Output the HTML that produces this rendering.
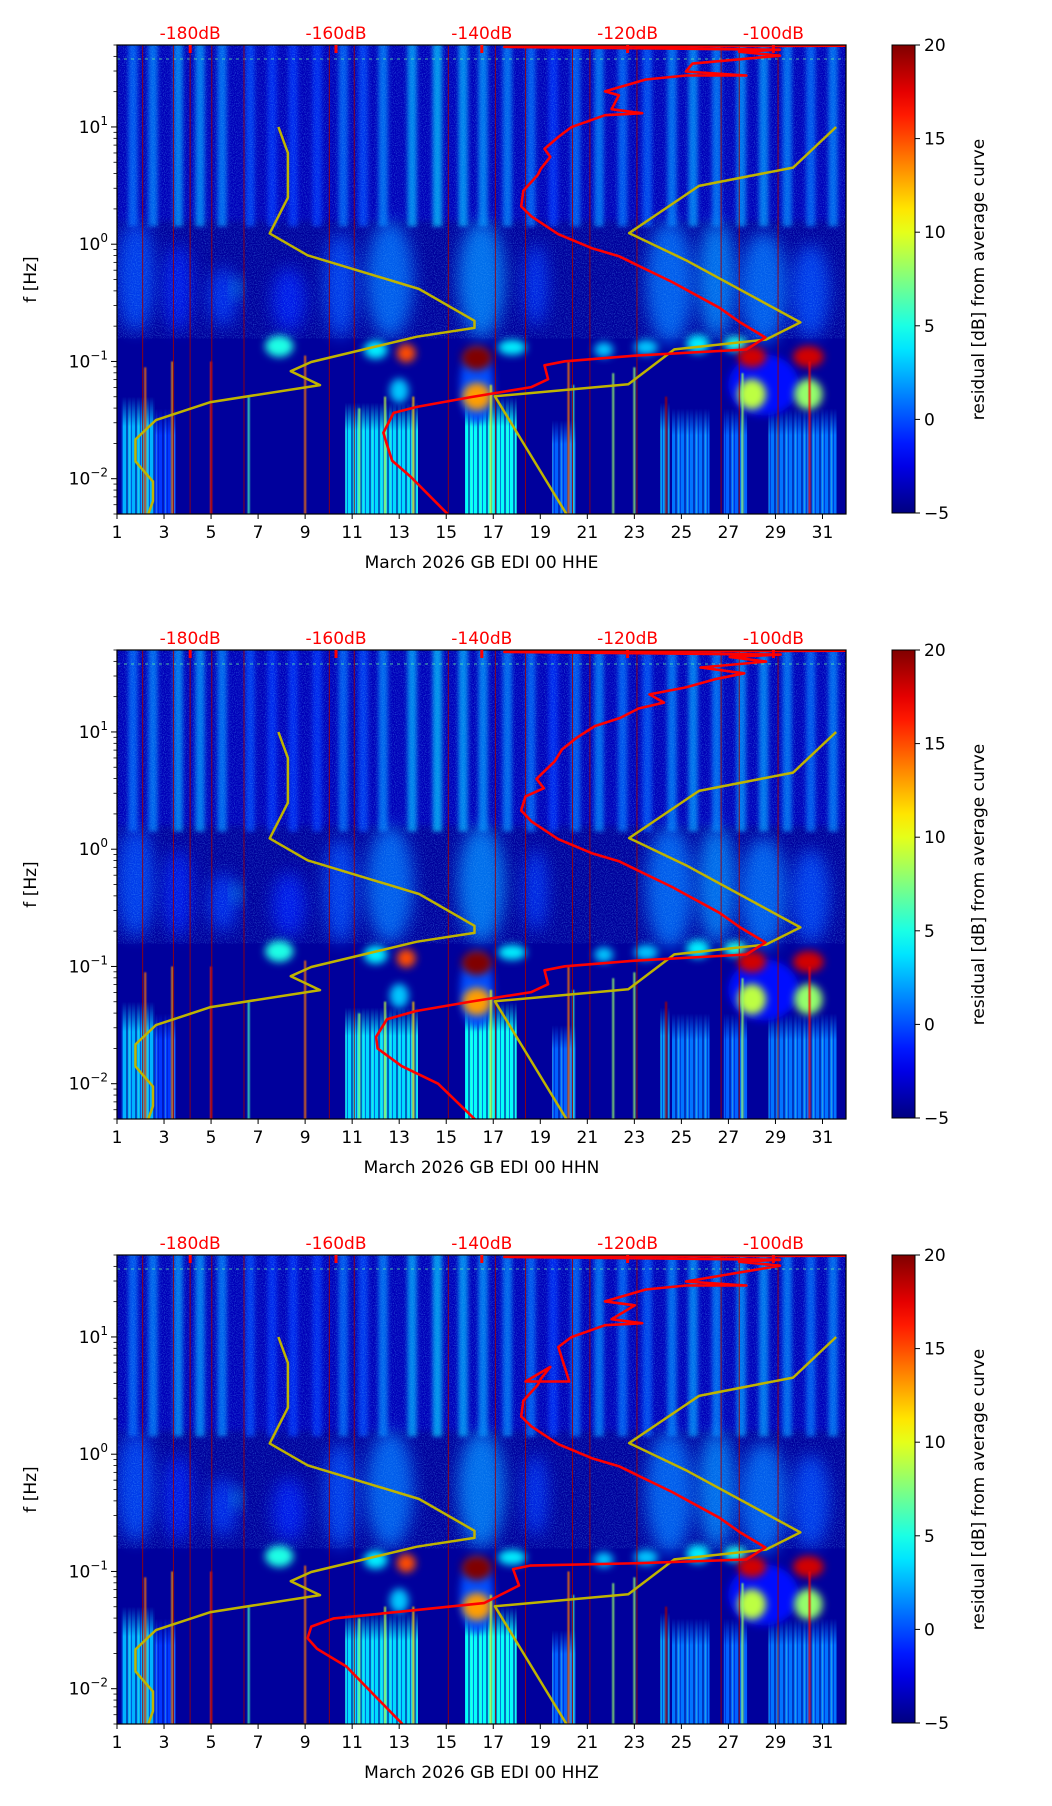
<!DOCTYPE html>
<html><head><meta charset="utf-8"><title>Spectrogram residuals</title>
<style>
html,body{margin:0;padding:0;background:#fff;}
svg{display:block;font-family:"DejaVu Sans","Liberation Sans",sans-serif;}
</style></head>
<body>
<svg id="root" width="1052" height="1806" viewBox="0 0 1052 1806">
<defs>
<filter id="b1" x="-50%" y="-50%" width="200%" height="200%"><feGaussianBlur stdDeviation="0.8"/></filter>
<filter id="b2" x="-50%" y="-50%" width="200%" height="200%"><feGaussianBlur stdDeviation="2"/></filter>
<filter id="b3" x="-50%" y="-50%" width="200%" height="200%"><feGaussianBlur stdDeviation="3"/></filter>
<filter id="b4" x="-50%" y="-50%" width="200%" height="200%"><feGaussianBlur stdDeviation="4"/></filter>
<filter id="b8" x="-50%" y="-50%" width="200%" height="200%"><feGaussianBlur stdDeviation="8"/></filter>
<filter id="grain" x="0" y="0" width="100%" height="100%">
<feTurbulence type="fractalNoise" baseFrequency="0.9" numOctaves="1" seed="3"/>
<feColorMatrix values="0 0 0 0 0.1  0 0 0 0 0.45  0 0 0 0 1  0 0 0 1.8 -0.8"/>
</filter>
<pattern id="streakpat" width="9" height="20" patternUnits="userSpaceOnUse">
<rect x="0" y="0" width="2" height="20" fill="#00008f"/>
<rect x="5" y="0" width="1" height="20" fill="#0010c0"/>
<rect x="3" y="0" width="1" height="20" fill="#80ffa0" opacity="0.5"/>
</pattern>
<linearGradient id="fadeTop" x1="0" y1="0" x2="0" y2="1">
<stop offset="0" stop-color="#fff" stop-opacity="0"/>
<stop offset="0.25" stop-color="#fff" stop-opacity="1"/>
</linearGradient>
<mask id="fadeMask" maskContentUnits="objectBoundingBox"><rect x="0" y="0" width="1" height="1" fill="url(#fadeTop)"/></mask>
<linearGradient id="cbgrad" x1="0" y1="1" x2="0" y2="0"></linearGradient>
</defs>
</svg>
<script>
// ---------- data ----------
const channels = ["HHE", "HHN", "HHZ"];
const xTicks = [1,3,5,7,9,11,13,15,17,19,21,23,25,27,29,31];
const yTickExp = [1,0,-1,-2];
const dbTicks = [-180,-160,-140,-120,-100];
const cbTicks = [20,15,10,5,0,-5];

const stripeDays = [1.68,2.53,3.6,4.53,5.47,6.66,7.6,8.49,9.51,10.62,11.47,12.32,13.55,14.62,15.72,16.57,17.6,18.6,19.55,20.5,21.5,22.5,23.55,24.6,25.5,26.5,27.55,28.5,29.5,30.5,31.45];
const stripeVals = [1,1.5,2,2,1.5,0,-0.5,-0.5,-0.5,1,0,1.5,2.5,3,2.5,2,1.5,1,-0.5,1,1.5,1,0.5,1.5,2,1.5,2,2,1.5,1,1.5];
const plumeDay = [1.8,3.6,5.5,6.1,8.3,10.5,12.6,16.5,18.8,24.5,26.5,28.5,30.5];
const plumeHalfW = [0.8,0.6,0.6,0.2,0.7,0.7,1.0,1.0,0.5,1.0,0.8,1.0,0.8];
const plumeLfLow = [-0.75,-0.75,-0.7,-0.45,-0.75,-0.8,-0.8,-0.8,-0.7,-0.85,-0.8,-0.85,-0.8];
const plumeLfHigh = [0.2,0.0,-0.2,-0.3,-0.2,0.1,0.2,0.2,0.0,0.2,0.2,0.1,0.0];
const plumeVal = [0,-1,-0.5,3,-1,0,1,1.5,-0.5,1,1.5,1,0];
const blobDay = [28.5,16.3,21.7,23.5,17.8,12.0,25.7,13.0,7.9,27.3,30.4,28.0,16.3,13.3,28.0,30.4,16.3];
const blobLf = [-1.2,-1.2,-0.9,-0.88,-0.88,-0.9,-0.85,-1.25,-0.87,-0.85,-1.28,-1.28,-1.3,-0.93,-0.96,-0.96,-0.97];
const blobHalfW = [1.5,0.7,0.4,0.5,0.6,0.5,0.5,0.4,0.6,0.5,0.6,0.6,0.6,0.4,0.6,0.65,0.65];
const blobHalfH = [0.2,0.25,0.05,0.05,0.05,0.06,0.06,0.08,0.07,0.05,0.1,0.1,0.09,0.06,0.07,0.07,0.08];
const blobVal = [-1.5,0,3,3,4,4,4,3,5,5,8,9,13,15,18,18,20];
const lowStart = [1.2,2.6,10.7,15.8,19.5,24.1,24.6,26.8,28.7];
const lowEnd = [2.6,3.5,13.8,18.0,20.5,24.5,26.2,27.8,31.6];
const lowTop = [-1.3,-1.4,-1.35,-1.3,-1.5,-1.35,-1.4,-1.4,-1.4];
const lowVal = [2.5,-0.5,3.5,4.5,0.5,2,1,0.5,1];
const streakDay = [2.2,3.35,5.0,6.6,9.0,11.3,12.4,13.6,16.9,20.2,20.4,22.1,23.0,24.35,27.6,30.45];
const streakTop = [-1.05,-1.0,-1.0,-1.3,-0.95,-1.4,-1.3,-1.3,-1.2,-1.0,-1.2,-1.1,-1.05,-1.3,-1.1,-1.0];
const streakVal = [14,13,16,6,14,8,9,12,10,14,6,8,8,19,8,17];
const darkLineDays = [2.09,3.4,4.11,5.03,6.4,10.03,11.09,15.09,17.09,18.37,20.37,21.11,23.11,26.69,27.46,29.11];

const lowModelDb = [-167.9,-166.6,-166.6,-169.1,-163.9,-148.6,-141.0,-141.0,-148.9,-163.4,-166.2,-162.2,-177.2,-184.7,-187.5,-187.5,-185.1,-185.1,-185.8];
const lowModelLf = [1.0,0.779,0.397,0.092,-0.095,-0.382,-0.653,-0.714,-0.789,-1.005,-1.083,-1.202,-1.347,-1.5,-1.665,-1.852,-2.025,-2.19,-2.31];
const highModelDb = [-91.4,-97.3,-110.2,-119.8,-112.0,-96.3,-101.0,-113.6,-119.9,-138.2,-128.3];
const highModelLf = [1.0,0.653,0.497,0.095,-0.136,-0.667,-0.813,-0.897,-1.195,-1.297,-2.31];

const redDb1 = [-144.5,-149.8,-152.3,-153.0,-153.5,-152.1,-148.9,-141.5,-133.2,-130.9,-131.4,-128.6,-118.5,-103.7,-101.1,-104.7,-107.4,-113.9,-121.2,-124.9,-129.5,-133.2,-134.6,-134.3,-132.3,-131.9,-130.6,-131.4,-129.5,-127.7,-123.1,-118.0,-122.2,-121.2,-123.1,-117.5,-112.0,-103.7,-112.0,-111.1,-99.1,-104.7,-99.1,-136.9,-89.9];
const redLf1 = [-2.313,-1.981,-1.846,-1.710,-1.608,-1.439,-1.388,-1.304,-1.219,-1.151,-1.033,-0.999,-0.948,-0.898,-0.796,-0.661,-0.542,-0.322,-0.102,-0.034,0.085,0.237,0.322,0.457,0.592,0.643,0.745,0.813,0.914,0.999,1.100,1.117,1.151,1.270,1.303,1.405,1.439,1.439,1.473,1.540,1.608,1.642,1.659,1.683,1.693];
const redDb2 = [-140.8,-146.0,-151.0,-154.3,-154.5,-153.0,-149.0,-141.5,-133.2,-130.9,-131.4,-128.6,-118.5,-103.7,-101.1,-104.7,-107.4,-113.9,-121.2,-124.9,-129.5,-133.2,-134.6,-134.0,-131.5,-132.5,-130.0,-129.0,-127.0,-124.5,-121.0,-118.5,-115.0,-117.0,-112.0,-108.0,-104.0,-110.0,-101.0,-106.0,-99.0,-136.9,-89.9];
const redLf2 = [-2.313,-2.0,-1.85,-1.7,-1.6,-1.45,-1.38,-1.3,-1.219,-1.151,-1.033,-0.999,-0.948,-0.898,-0.796,-0.661,-0.542,-0.322,-0.102,-0.034,0.085,0.237,0.33,0.45,0.52,0.6,0.75,0.85,0.95,1.05,1.12,1.2,1.25,1.32,1.38,1.45,1.5,1.55,1.6,1.64,1.66,1.683,1.693];
const redDb3 = [-150.9,-158.6,-162.6,-163.9,-163.4,-160.3,-150.7,-139.7,-134.9,-135.7,-133.4,-118.5,-103.7,-101.1,-104.7,-107.4,-113.9,-121.2,-124.9,-129.5,-133.2,-134.6,-134.3,-132.3,-131.9,-130.6,-134.0,-128.0,-129.5,-127.7,-123.1,-118.0,-122.2,-119.0,-123.1,-117.5,-112.0,-103.7,-112.0,-99.1,-104.7,-99.1,-136.9,-89.9];
const redLf3 = [-2.30,-1.81,-1.66,-1.57,-1.47,-1.40,-1.34,-1.27,-1.12,-0.98,-0.95,-0.93,-0.898,-0.796,-0.661,-0.542,-0.322,-0.102,-0.034,0.085,0.237,0.322,0.457,0.592,0.643,0.745,0.62,0.62,0.914,0.999,1.100,1.117,1.151,1.270,1.303,1.405,1.439,1.439,1.473,1.608,1.642,1.659,1.683,1.693];
const redDbs = [redDb1, redDb2, redDb3];
const redLfs = [redLf1, redLf2, redLf3];

// ---------- layout ----------
const NS = "http://www.w3.org/2000/svg";
const root = document.getElementById("root");
const PL = 117, PW = 729, PH = 469;
const panelTops = [45, 650, 1255];
const DAY0 = 1, DAY1 = 32, LF0 = Math.log10(0.005), LF1 = Math.log10(50);
const CBX = 892, CBW = 23;

function mk(tag, attrs, parent) {
  const e = document.createElementNS(NS, tag);
  for (const k in attrs) e.setAttribute(k, attrs[k]);
  parent.appendChild(e);
  return e;
}
function clamp(v){return Math.max(0, Math.min(1, v));}
function jet(v) {
  const t = clamp((v + 5) / 25);
  const r = clamp(1.5 - Math.abs(4*t - 3)), g = clamp(1.5 - Math.abs(4*t - 2)), b = clamp(1.5 - Math.abs(4*t - 1));
  return "rgb(" + Math.round(r*255) + "," + Math.round(g*255) + "," + Math.round(b*255) + ")";
}

const grad = document.getElementById("cbgrad");
for (let i = 0; i <= 20; i++) {
  const s = document.createElementNS(NS, "stop");
  s.setAttribute("offset", (i/20).toString());
  s.setAttribute("stop-color", jet(-5 + 25*i/20));
  grad.appendChild(s);
}

function drawPanel(p) {
  const top = panelTops[p];
  const xs = d => PL + (d - DAY0) / (DAY1 - DAY0) * PW;
  const ys = lf => top + (LF1 - lf) / (LF1 - LF0) * PH;
  const xdb = db => 190.2 + (db + 180) * 7.29;
  const dw = PW / (DAY1 - DAY0);
  const dec = PH / (LF1 - LF0);

  const g = mk("g", {}, root);
  
  

  const cp = mk("clipPath", {id: "clip" + p}, g);
  mk("rect", {x: PL, y: top, width: PW, height: PH}, cp);

  const spec = mk("g", {"clip-path": "url(#clip" + p + ")"}, g);
  
  
  mk("rect", {x: PL, y: top, width: PW, height: PH, fill: jet(-4.3)}, spec);
  mk("rect", {x: PL, y: top, width: PW, height: ys(0.2) - top, fill: jet(-3.6), filter: "url(#b3)"}, spec);
  stripeDays.forEach((d, i) => {
    const r = mk("rect", {x: xs(d) - dw*0.2, y: top - 10, width: dw*0.4, height: ys(0.15) - top + 10, fill: jet(stripeVals[i]), opacity: 0.75, filter: "url(#b2)"}, spec);
    
    
  });
  plumeDay.forEach((d, i) => {
    const y1 = ys(plumeLfHigh[i]), y2 = ys(plumeLfLow[i]);
    const e = mk("ellipse", {cx: xs(d), cy: (y1 + y2)/2, rx: plumeHalfW[i]*dw, ry: (y2 - y1)/2, fill: jet(plumeVal[i]), opacity: 0.8, filter: "url(#b8)"}, spec);
    
    
  });
  mk("rect", {x: PL, y: top, width: PW, height: ys(-0.8) - top, filter: "url(#grain)", opacity: 0.55}, spec);
  lowStart.forEach((d, i) => {
    const gg = mk("g", {mask: "url(#fadeMask)"}, spec);
    
    
    const x = xs(d), w = xs(lowEnd[i]) - xs(d), y = ys(lowTop[i]), h = top + PH - ys(lowTop[i]) + 2;
    mk("rect", {x: x, y: y, width: w, height: h, fill: jet(lowVal[i])}, gg);
    mk("rect", {x: x, y: y, width: w, height: h, fill: "url(#streakpat)", opacity: 0.55}, gg);
  });
  blobDay.forEach((d, i) => {
    const e = mk("ellipse", {cx: xs(d), cy: ys(blobLf[i]), rx: blobHalfW[i]*dw, ry: blobHalfH[i]*dec*1.3, fill: jet(blobVal[i]), filter: "url(#b4)"}, spec);
    
    
  });
  streakDay.forEach((d, i) => {
    const r = mk("rect", {x: xs(d) - 1, y: ys(streakTop[i]), width: 2, height: top + PH - ys(streakTop[i]) + 5, fill: jet(streakVal[i]), opacity: 0.85, filter: "url(#b1)"}, spec);
    
    
  });
  mk("line", {x1: PL, x2: PL + PW, y1: ys(1.58), y2: ys(1.58), stroke: jet(7), "stroke-width": 1, "stroke-dasharray": "3 4", opacity: 0.7}, spec);
  darkLineDays.forEach(d => {
    const l = mk("line", {x1: xs(d), x2: xs(d), y1: top, y2: top + PH, stroke: "#a00000", "stroke-width": 1, opacity: 0.85}, spec);
    
    
  });

  const curves = mk("g", {"clip-path": "url(#clip" + p + ")", fill: "none"}, g);
  const pathOf = (dbs, lfs) => dbs.map((v, i) => (i ? "L" : "M") + xdb(v).toFixed(1) + "," + ys(lfs[i]).toFixed(1)).join("");
  const y1 = mk("path", {d: pathOf(lowModelDb, lowModelLf), stroke: "#bfb400", "stroke-width": 2.5, "stroke-linejoin": "round"}, curves);
  
  
  const y2 = mk("path", {d: pathOf(highModelDb, highModelLf), stroke: "#bfb400", "stroke-width": 2.5, "stroke-linejoin": "round"}, curves);
  
  
  const rl = mk("path", {d: pathOf(redDbs[p], redLfs[p]), stroke: "#ff0000", "stroke-width": 2.6, "stroke-linejoin": "round"}, curves);
  
  

  const fr = mk("rect", {x: PL, y: top, width: PW, height: PH, fill: "none", stroke: "#000", "stroke-width": 1.2}, g);
  
  

  const xa = mk("g", {}, g);
  
  
  xTicks.forEach(t => {
    mk("line", {x1: xs(t), x2: xs(t), y1: top + PH, y2: top + PH + 5, stroke: "#000", "stroke-width": 1}, xa);
    const tx = mk("text", {x: xs(t), y: top + PH + 24, "text-anchor": "middle", "font-size": 17, fill: "#000"}, xa);
    tx.textContent = t;
    
    
  });
  const xl = mk("text", {x: PL + PW/2, y: top + PH + 54, "text-anchor": "middle", "font-size": 17, fill: "#000"}, xa);
  xl.textContent = "March 2026 GB EDI 00 " + channels[p];
  
  

  const ta = mk("g", {}, g);
  
  
  dbTicks.forEach(t => {
    mk("line", {x1: xdb(t), x2: xdb(t), y1: top, y2: top + 8, stroke: "#ff0000", "stroke-width": 3}, ta);
    const tx = mk("text", {x: xdb(t), y: top - 6, "text-anchor": "middle", "font-size": 17, fill: "#ff0000"}, ta);
    tx.textContent = t + "dB";
    
    
  });

  const ya = mk("g", {}, g);
  
  
  for (let n = -3; n <= 1; n++) for (let k = 1; k <= 9; k++) {
    const lf = n + Math.log10(k);
    if (lf < LF0 || lf > LF1) continue;
    mk("line", {x1: PL, x2: PL - (k === 1 ? 6 : 3.5), y1: ys(lf), y2: ys(lf), stroke: "#000", "stroke-width": k === 1 ? 1 : 0.8}, ya);
  }
  yTickExp.forEach(e => {
    const tx = mk("text", {x: PL - 9, y: ys(e) + 6, "text-anchor": "end", "font-size": 17, fill: "#000"}, ya);
    
    
    const base = document.createElementNS(NS, "tspan"); base.textContent = "10"; tx.appendChild(base);
    const sup = document.createElementNS(NS, "tspan");
    sup.setAttribute("dy", "-8"); sup.setAttribute("font-size", "12");
    sup.textContent = e < 0 ? "\u2212" + (-e) : String(e);
    tx.appendChild(sup);
  });
  const yl = mk("text", {x: 0, y: 0, "text-anchor": "middle", "font-size": 17, fill: "#000", transform: "translate(36," + (top + PH/2) + ") rotate(-90)"}, ya);
  yl.textContent = "f [Hz]";
  
  

  const cb = mk("g", {}, g);
  
  
  mk("rect", {x: CBX, y: top, width: CBW, height: PH - 1, fill: "url(#cbgrad)", stroke: "#000", "stroke-width": 1}, cb);
  const cby = v => top + (20 - v) / 25 * (PH - 1);
  cbTicks.forEach(t => {
    mk("line", {x1: CBX + CBW, x2: CBX + CBW + 5, y1: cby(t), y2: cby(t), stroke: "#000", "stroke-width": 1}, cb);
    const tx = mk("text", {x: CBX + CBW + 9, y: cby(t) + 6, "font-size": 17, fill: "#000"}, cb);
    tx.textContent = t < 0 ? "\u2212" + (-t) : t;
    
    
  });
  const cl = mk("text", {x: 0, y: 0, "text-anchor": "middle", "font-size": 17, fill: "#000", transform: "translate(984," + (top + PH/2) + ") rotate(-90)"}, cb);
  cl.textContent = "residual [dB] from average curve";
  
  
}
for (let p = 0; p < 3; p++) drawPanel(p);
</script>
</body></html>
